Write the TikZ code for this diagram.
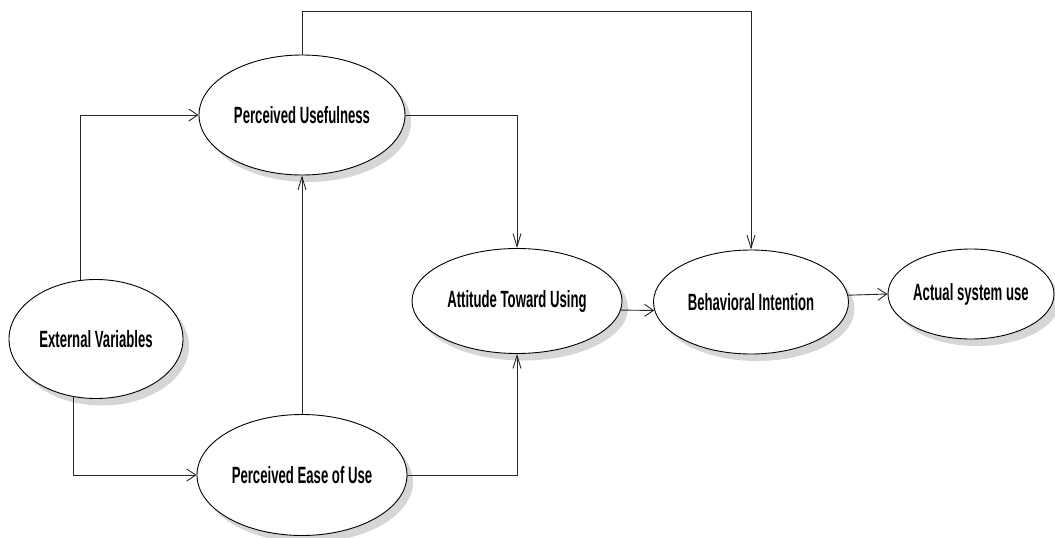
\documentclass[tikz,border=0pt]{standalone}
\usepackage{fontspec}
\setmainfont{Liberation Sans}[FakeStretch=0.56]
\usetikzlibrary{shapes.geometric,arrows.meta}
\begin{document}
\begin{tikzpicture}[x=1pt,y=-1pt,
  oval/.style={ellipse,draw=black,line width=0.9pt,fill=white,inner sep=0pt,
    font=\fontsize{23.5}{26}\selectfont\bfseries},
  ovalshadow/.style={fill=black!16,draw=none},
  conn/.style={draw=black!85,line width=0.9pt},
  harr/.style={conn,-{Straight Barb[length=9pt,width=12pt,line width=0.9pt]}},
  varr/.style={conn,-{Straight Barb[length=13pt,width=8pt,line width=0.9pt]}}]
\useasboundingbox (0,0) rectangle (1055,538);
% soft shadows
\fill[ovalshadow] (102,346) ellipse [x radius=87pt, y radius=59.5pt];
\fill[ovalshadow] (308,122) ellipse [x radius=103pt, y radius=60pt];
\fill[ovalshadow] (308,482) ellipse [x radius=105pt, y radius=60.5pt];
\fill[ovalshadow] (523,308) ellipse [x radius=105pt, y radius=52.5pt];
\fill[ovalshadow] (757,309) ellipse [x radius=97.5pt, y radius=52pt];
\fill[ovalshadow] (977,301) ellipse [x radius=83pt, y radius=45pt];
\node[oval,minimum width=174pt,minimum height=119pt] (EV) at (96,339) {External Variables};
\node[oval,minimum width=206pt,minimum height=120pt] (PU) at (302,115) {Perceived Usefulness};
\node[oval,minimum width=210pt,minimum height=121pt] (PE) at (302,475) {Perceived Ease of Use};
\node[oval,minimum width=210pt,minimum height=105pt] (ATU) at (517,301) {Attitude Toward Using};
\node[oval,minimum width=195pt,minimum height=104pt] (BI) at (751,302) {Behavioral Intention};
\node[oval,minimum width=166pt,minimum height=90pt] (ASU) at (971,294) {Actual system use};
\coordinate (top) at (0,11);
\draw[harr] (EV.105) |- (PU.west);
\draw[harr] (EV.249) |- (PE.west);
\draw[varr] (PE.north) -- (PU.south);
\draw[varr] (PU.east) -| (ATU.north);
\draw[varr] (PE.east) -| (ATU.south);
\draw[harr] (ATU.-5.5) -- (BI.185);
\draw[harr] (BI.4) -- (ASU.west);
\draw[varr] (PU.north) |- (top -| BI.north) -- (BI.north);
\end{tikzpicture}
\end{document}
